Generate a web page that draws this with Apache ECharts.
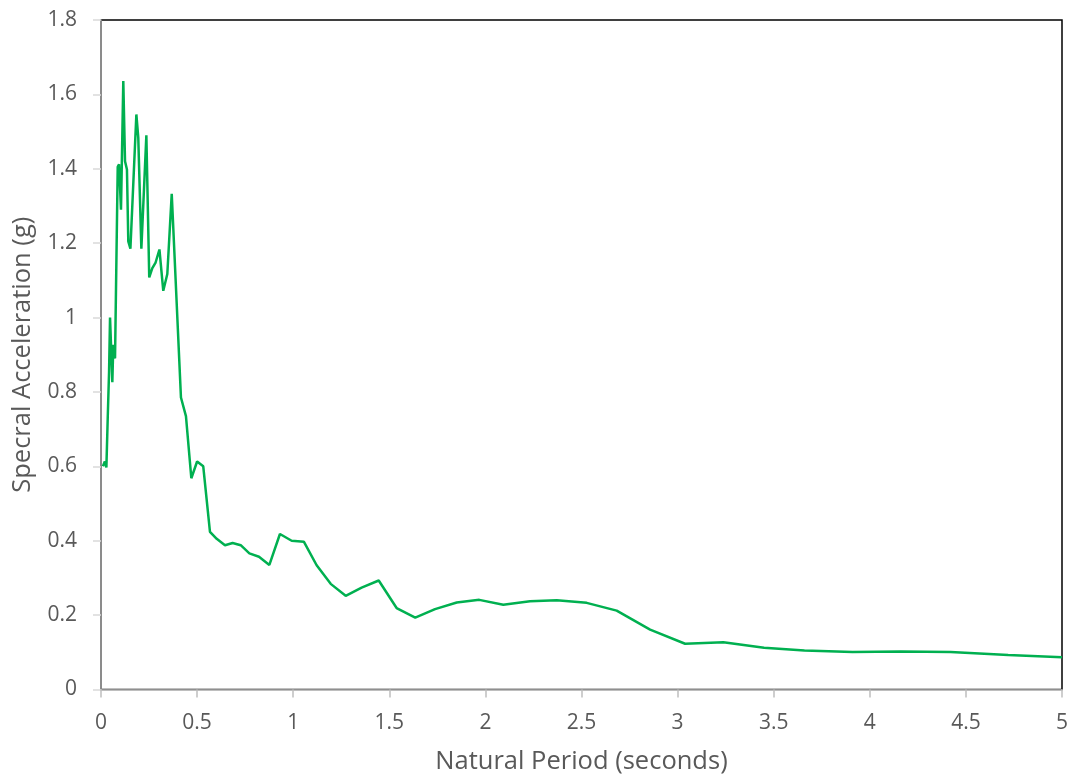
<!DOCTYPE html>
<html><head><meta charset="utf-8">
<script src="https://cdn.jsdelivr.net/npm/echarts@6/dist/echarts.min.js"></script>
<style>html,body{margin:0;padding:0;background:#fff}#c{width:1072px;height:776px}</style>
</head><body><div id="c"></div>
<script>
const periods = [0.01,0.02,0.028,0.035,0.042,0.047,0.059,0.064,0.073,0.087,0.094,0.104,0.116,0.125,0.135,0.142,0.153,0.184,0.194,0.21,0.236,0.251,0.267,0.284,0.304,0.324,0.345,0.368,0.416,0.442,0.47,0.5,0.532,0.567,0.602,0.645,0.685,0.727,0.772,0.822,0.876,0.931,0.992,1.056,1.122,1.195,1.273,1.356,1.445,1.538,1.635,1.738,1.851,1.968,2.093,2.232,2.371,2.527,2.683,2.857,3.039,3.238,3.45,3.66,3.91,4.16,4.42,4.72,5.0];
const accel = [0.600,0.613,0.597,0.73,0.855,1.0,0.826,0.927,0.89,1.405,1.412,1.29,1.636,1.42,1.398,1.205,1.185,1.546,1.483,1.185,1.49,1.108,1.133,1.148,1.183,1.072,1.117,1.333,0.785,0.735,0.568,0.613,0.600,0.424,0.405,0.388,0.394,0.388,0.366,0.357,0.335,0.418,0.400,0.397,0.334,0.284,0.252,0.274,0.293,0.219,0.193,0.216,0.234,0.241,0.228,0.237,0.240,0.233,0.212,0.161,0.123,0.127,0.112,0.105,0.101,0.102,0.101,0.093,0.087];
const xTitle = 'Natural Period (seconds)';
const yTitle = 'Specral Acceleration (g)';

const font = '"Open Sans", "Liberation Sans", sans-serif';
const chart = echarts.init(document.getElementById('c'), null, {renderer:'canvas'});
chart.setOption({
  animation:false,
  grid:{left:101,right:10,top:20,bottom:86.5,outerBoundsMode:'none',containLabel:false,
    show:true,borderColor:'#000',borderWidth:1.5,backgroundColor:'#fff'},
  xAxis:{type:'value',min:0,max:5,interval:0.5,
    name:xTitle,nameLocation:'middle',nameGap:59,
    nameTextStyle:{fontFamily:font,fontSize:25.5,color:'#595959'},
    axisLine:{show:true,onZero:false,lineStyle:{color:'#bfbfbf',width:1.5}},
    axisTick:{show:true,inside:false,length:8,lineStyle:{color:'#bfbfbf',width:1.5}},
    axisLabel:{fontFamily:font,fontSize:21,color:'#595959',margin:23},
    splitLine:{show:false}},
  yAxis:{type:'value',min:0,max:1.8,interval:0.2,
    name:yTitle,nameLocation:'middle',nameGap:65,
    nameTextStyle:{fontFamily:font,fontSize:25.5,color:'#595959'},
    axisLine:{show:true,lineStyle:{color:'#a6a6a6',width:1.5}},
    axisTick:{show:true,length:8,lineStyle:{color:'#d9d9d9',width:1.5}},
    axisLabel:{fontFamily:font,fontSize:21,color:'#595959',margin:24,
      formatter:v=>String(Math.round(v*10)/10)},
    splitLine:{show:false}},
  series:[{type:'line',data:periods.map((p,i)=>[p,accel[i]]),showSymbol:false,
    lineStyle:{color:'#00b050',width:2.5},itemStyle:{color:'#00b050'}}]
});
</script></body></html>
